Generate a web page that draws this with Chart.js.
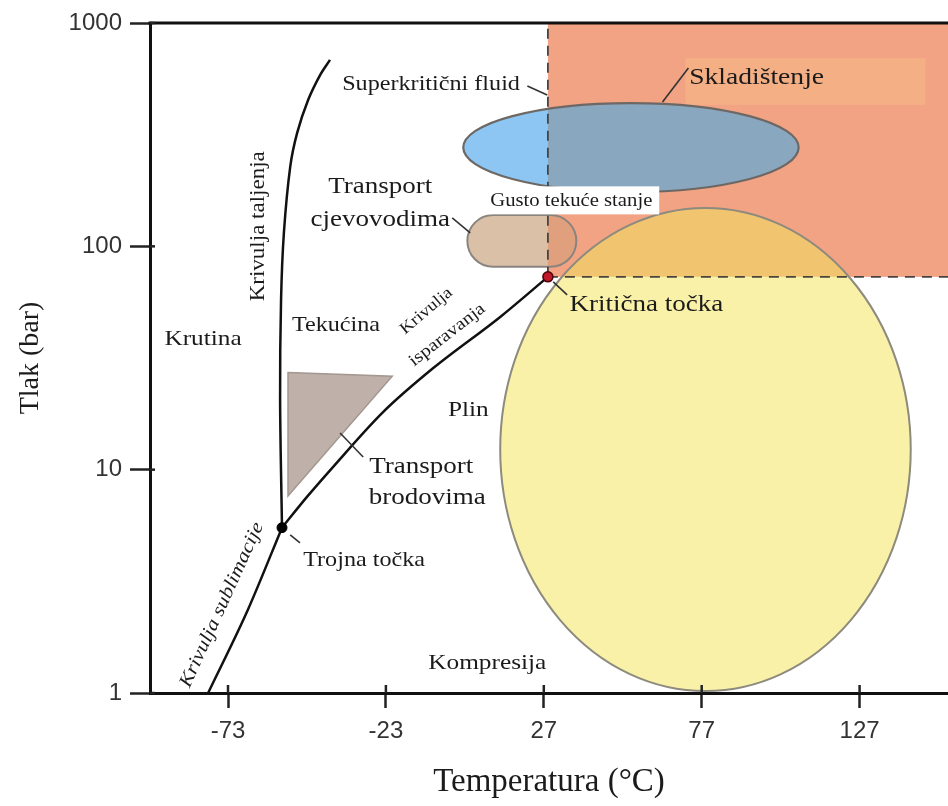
<!DOCTYPE html>
<html>
<head>
<meta charset="utf-8">
<script src="https://cdn.jsdelivr.net/npm/chart.js@4.4.0/dist/chart.umd.min.js"></script>
<style>
  body { margin: 0; background: #fff; }
</style>
</head>
<body>
<canvas id="phaseChart" width="948" height="806"></canvas>
<script>
// tick labels
const tempTicks = [-73, -23, 27, 77, 127];
const pressTicks = [1, 10, 100, 1000];

// phase boundaries (T in °C, p in bar)
const tripleT = -55.9, tripleP = 5.5;
const critT = 28.3, critP = 73;
const meltT = [-55.9, -56.5, -56.2, -55.3, -53.3, -51.1, -47.6, -43.8, -40.7];
const meltP = [5.5, 20.5, 57.5, 115, 227, 322, 453, 586, 684];
const sublT = [-79.3, -66.7, -55.9];
const sublP = [1.0, 2.36, 5.5];
const vapT = [-55.9, -48.0, -39.7, -23.9, -8.0, 13.2, 28.3];
const vapP = [5.5, 7.55, 10.3, 18.1, 28.5, 48.3, 73];

// application zones: [Tmin, Tmax, pMin, pMax]
const storageZone = [critT, 155, critP, 1000];
const supercritZone = [1.5, 107.7, 175, 438];
const pipelineZone = [2.8, 37.3, 81, 138];
const compressionZone = [13.2, 143.2, 1.02, 148.5];
const shipT = [-54.0, -21.0, -54.0];
const shipP = [27.2, 26.2, 7.63];

// text annotations, anchored in data units
const notes = [
    { text: 'Superkritični fluid', t: -8.7, p: 528, size: 21 },
    { text: 'Skladištenje', t: 94.4, p: 567, size: 24 },
    { text: 'Transport', t: -24.8, p: 184, size: 23.5 },
    { text: 'cjevovodima', t: -24.8, p: 132, size: 23.5 },
    { text: 'Gusto tekuće stanje', t: 35.7, p: 159, size: 18, box: true },
    { text: 'Krivulja taljenja', t: -63.2, p: 123, size: 20, rot: -90 },
    { text: 'Krutina', t: -80.9, p: 38.5, size: 22 },
    { text: 'Tekućina', t: -38.8, p: 44.4, size: 21 },
    { text: 'Krivulja', t: -10.2, p: 51.3, size: 16.5, rot: -40 },
    { text: 'isparavanja', t: -3.6, p: 40.1, size: 17.5, rot: -38 },
    { text: 'Kritična točka', t: 59.5, p: 54.6, size: 23.5 },
    { text: 'Plin', t: 3.1, p: 18.5, size: 22 },
    { text: 'Transport', t: -11.8, p: 10.3, size: 23.5 },
    { text: 'brodovima', t: -9.9, p: 7.47, size: 23.5 },
    { text: 'Trojna točka', t: -29.9, p: 3.94, size: 21 },
    { text: 'Krivulja sublimacije', t: -74.9, p: 2.48, size: 19, rot: -65.6, italic: true },
    { text: 'Kompresija', t: 9.1, p: 1.36, size: 22 }
];
const pointers = [
    [21.8, 522, 28.1, 476],
    [64.6, 443, 72.8, 629],
    [-2.0, 134, 3.7, 115],
    [30.0, 69.3, 34.4, 60.6],
    [-37.5, 14.6, -30.2, 11.4],
    [-53.3, 5.1, -50.2, 4.7]
];

function toXY(ts, ps) {
    return ts.map((t, i) => ({ x: t, y: ps[i] }));
}

const zonesPlugin = {
    id: 'zones',
    beforeDatasetsDraw(chart) {
        const { ctx, chartArea: a, scales: { x, y } } = chart;
        const box = z => ({
            l: x.getPixelForValue(z[0]), r: x.getPixelForValue(z[1]),
            b: y.getPixelForValue(z[2]), t: y.getPixelForValue(z[3])
        });
        const st = box(storageZone);
        ctx.save();
        ctx.beginPath();
        ctx.rect(a.left, a.top, a.width, a.height);
        ctx.clip();
        ctx.fillStyle = '#F1A384';
        ctx.fillRect(st.l, st.t, st.r - st.l, st.b - st.t);
        // lighter patch behind the storage label
        const patch = box([71.8, 147.9, 430, 697]);
        ctx.fillStyle = 'rgba(250,190,135,0.45)';
        ctx.fillRect(patch.l, patch.t, patch.r - patch.l, patch.b - patch.t);

        const twoTone = (path, outside, inside, stroke, lw) => {
            path(); ctx.fillStyle = outside; ctx.fill();
            ctx.save();
            ctx.beginPath(); ctx.rect(st.l, st.t, st.r - st.l, st.b - st.t); ctx.clip();
            path(); ctx.fillStyle = inside; ctx.fill();
            ctx.restore();
            path(); ctx.strokeStyle = stroke; ctx.lineWidth = lw; ctx.stroke();
        };
        const ellipse = z => () => {
            const b = box(z);
            ctx.beginPath();
            ctx.ellipse((b.l + b.r) / 2, (b.t + b.b) / 2, (b.r - b.l) / 2, (b.b - b.t) / 2, 0, 0, Math.PI * 2);
        };
        const capsule = z => () => {
            const b = box(z);
            ctx.beginPath();
            ctx.roundRect(b.l, b.t, b.r - b.l, b.b - b.t, (b.b - b.t) / 2);
        };
        twoTone(ellipse(supercritZone), '#8DC6F3', '#8AA7C0', '#6d6864', 2.2);
        twoTone(capsule(pipelineZone), '#D9C0A6', '#E0A07E', '#8a847e', 2);
        twoTone(ellipse(compressionZone), '#FAF1A8', '#F1C46F', '#8d8a7e', 2);

        // ship transport triangle
        ctx.beginPath();
        shipT.forEach((t, i) => {
            const px = x.getPixelForValue(t), py = y.getPixelForValue(shipP[i]);
            if (i) ctx.lineTo(px, py); else ctx.moveTo(px, py);
        });
        ctx.closePath();
        ctx.fillStyle = '#BFB0A9';
        ctx.fill();
        ctx.strokeStyle = '#A3978F';
        ctx.lineWidth = 1.5;
        ctx.stroke();
        ctx.restore();
    },
    afterDatasetsDraw(chart) {
        const { ctx, scales: { x, y } } = chart;
        ctx.save();
        ctx.strokeStyle = '#333';
        ctx.lineWidth = 1.6;
        pointers.forEach(([t1, p1, t2, p2]) => {
            ctx.beginPath();
            ctx.moveTo(x.getPixelForValue(t1), y.getPixelForValue(p1));
            ctx.lineTo(x.getPixelForValue(t2), y.getPixelForValue(p2));
            ctx.stroke();
        });
        notes.forEach(n => {
            ctx.save();
            ctx.translate(x.getPixelForValue(n.t), y.getPixelForValue(n.p));
            ctx.rotate((n.rot || 0) * Math.PI / 180);
            ctx.scale(1.15, 1);
            ctx.font = (n.italic ? 'italic ' : '') + n.size + 'px "Liberation Serif", "Times New Roman", serif';
            ctx.textAlign = 'center';
            ctx.textBaseline = 'middle';
            if (n.box) {
                const w = ctx.measureText(n.text).width + 12;
                ctx.fillStyle = '#fff';
                ctx.fillRect(-w / 2, -15, w, 28);
            }
            ctx.fillStyle = '#1b1b1b';
            ctx.fillText(n.text, 0, 0);
            ctx.restore();
        });
        ctx.restore();
    },
    afterDraw(chart) {
        const { ctx, chartArea: a, scales: { x, y } } = chart;
        ctx.save();
        ctx.strokeStyle = '#111';
        ctx.lineWidth = 3;
        ctx.beginPath();
        ctx.moveTo(a.left - 1.5, a.top);
        ctx.lineTo(a.right, a.top);
        ctx.stroke();
        // inner halves of the tick marks
        ctx.strokeStyle = '#222';
        ctx.lineWidth = 2.5;
        tempTicks.forEach(t => {
            const px = x.getPixelForValue(t);
            ctx.beginPath(); ctx.moveTo(px, a.bottom); ctx.lineTo(px, a.bottom - 8); ctx.stroke();
        });
        pressTicks.forEach(p => {
            const py = y.getPixelForValue(p);
            ctx.beginPath(); ctx.moveTo(a.left, py); ctx.lineTo(a.left + 5, py); ctx.stroke();
        });
        ctx.restore();
    }
};

const curve = { borderColor: '#111', borderWidth: 2.5, pointRadius: 0, fill: false };
const dashed = { borderColor: '#4a4440', borderWidth: 1.8, borderDash: [10, 7], pointRadius: 0, fill: false };

const phaseCtx = document.getElementById('phaseChart').getContext('2d');
new Chart(phaseCtx, {
    type: 'line',
    data: {
        datasets: [
            { label: 'Kritična točka', data: toXY([critT], [critP]), showLine: false, pointRadius: 5,
              pointBackgroundColor: '#c0182a', pointBorderColor: '#4a0008', pointBorderWidth: 1.5 },
            { label: 'Trojna točka', data: toXY([tripleT], [tripleP]), showLine: false, pointRadius: 5,
              pointBackgroundColor: '#000', pointBorderColor: '#000' },
            { label: 'Krivulja taljenja', data: toXY(meltT, meltP), tension: 0.35, ...curve },
            { label: 'Krivulja sublimacije', data: toXY(sublT, sublP), cubicInterpolationMode: 'monotone', ...curve },
            { label: 'Krivulja isparavanja', data: toXY(vapT, vapP), cubicInterpolationMode: 'monotone', ...curve },
            { label: 'Tc', data: toXY([critT, critT], [critP, 1000]), ...dashed },
            { label: 'pc', data: toXY([critT, 155], [critP, critP]), ...dashed }
        ]
    },
    options: {
        responsive: false,
        animation: false,
        devicePixelRatio: 1,
        layout: { autoPadding: false, padding: { top: 23, right: 0, left: 0, bottom: 0 } },
        plugins: {
            legend: { display: false },
            tooltip: { enabled: false },
            title: { display: false }
        },
        scales: {
            x: {
                type: 'linear',
                min: -97.7,
                max: 155,
                afterBuildTicks: s => { s.ticks = tempTicks.map(v => ({ value: v })); },
                afterFit: s => { s.height = 113; s.paddingLeft = 0; s.paddingRight = 0; },
                grid: { drawOnChartArea: false, drawTicks: true, tickLength: 15, tickWidth: 2.5, tickColor: '#222' },
                border: { display: true, color: '#111', width: 3 },
                ticks: {
                    font: { family: '"Liberation Sans", Arial, sans-serif', size: 24 },
                    color: '#333',
                    padding: 9,
                    maxRotation: 0,
                    autoSkip: false
                },
                title: {
                    display: true,
                    text: 'Temperatura (°C)',
                    font: { family: '"Liberation Serif", "Times New Roman", serif', size: 33 },
                    color: '#1b1b1b',
                    padding: { top: 0, bottom: 4 }
                }
            },
            y: {
                type: 'logarithmic',
                min: 1,
                max: 1000,
                afterBuildTicks: s => { s.ticks = pressTicks.map(v => ({ value: v })); },
                afterFit: s => { s.width = 150; },
                grid: { drawOnChartArea: false, drawTicks: true, tickLength: 20, tickWidth: 2.5, tickColor: '#222' },
                border: { display: true, color: '#111', width: 3 },
                ticks: {
                    font: { family: '"Liberation Sans", Arial, sans-serif', size: 24 },
                    color: '#333',
                    padding: 8,
                    callback: v => String(v)
                },
                title: {
                    display: true,
                    text: 'Tlak (bar)',
                    font: { family: '"Liberation Serif", "Times New Roman", serif', size: 28 },
                    color: '#1b1b1b',
                    padding: { top: 14, bottom: 0 }
                }
            }
        }
    },
    plugins: [zonesPlugin]
});
</script>
</body>
</html>
